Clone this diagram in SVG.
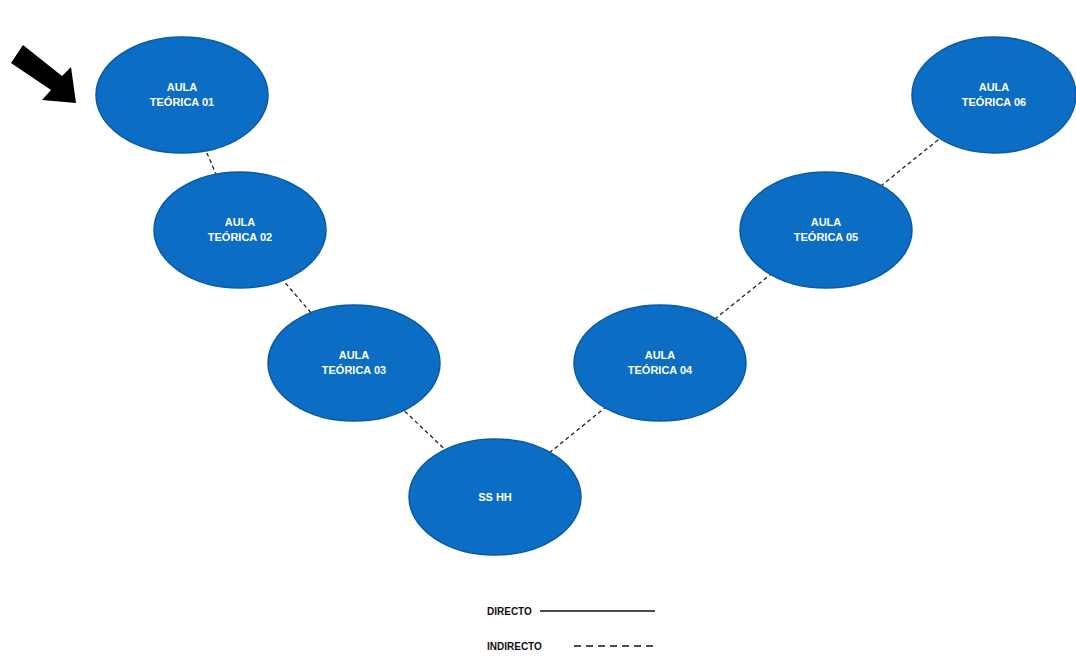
<svg xmlns="http://www.w3.org/2000/svg" width="1076" height="659" viewBox="0 0 1076 659">
<style>
.node ellipse{fill:#0b6dc4;stroke:#0a5aa3;stroke-width:1.5}
.node text{fill:#ffffff;font-family:"Liberation Sans",Arial,sans-serif;font-weight:bold;font-size:11px;text-anchor:middle}
.conn line{stroke:#222;stroke-width:1.3;stroke-dasharray:4,3}
.legend text{fill:#111;font-family:"Liberation Sans",Arial,sans-serif;font-weight:bold;font-size:10px}
</style>
<rect width="1076" height="659" fill="#ffffff"/>
<g id="connectors" class="conn">
<line x1="182" y1="95" x2="240" y2="230"/>
<line x1="240" y1="230" x2="354" y2="363"/>
<line x1="354" y1="363" x2="495" y2="497"/>
<line x1="495" y1="497" x2="660" y2="363"/>
<line x1="660" y1="363" x2="826" y2="230"/>
<line x1="826" y1="230" x2="994" y2="95"/>
</g>
<g id="arrow">
<polygon points="23,45 62,76 71,67 76,103 42,100 51,90 11,63" fill="#000"/>
</g>
<g id="n1" class="node"><ellipse cx="182" cy="95" rx="86" ry="58"/><text x="182" y="91">AULA</text><text x="182" y="106">TEÓRICA 01</text></g>
<g id="n2" class="node"><ellipse cx="240" cy="230" rx="86" ry="58"/><text x="240" y="226">AULA</text><text x="240" y="241">TEÓRICA 02</text></g>
<g id="n3" class="node"><ellipse cx="354" cy="363" rx="86" ry="58"/><text x="354" y="359">AULA</text><text x="354" y="374">TEÓRICA 03</text></g>
<g id="n7" class="node"><ellipse cx="495" cy="497" rx="86" ry="58"/><text x="495" y="501">SS HH</text></g>
<g id="n4" class="node"><ellipse cx="660" cy="363" rx="86" ry="58"/><text x="660" y="359">AULA</text><text x="660" y="374">TEÓRICA 04</text></g>
<g id="n5" class="node"><ellipse cx="826" cy="230" rx="86" ry="58"/><text x="826" y="226">AULA</text><text x="826" y="241">TEÓRICA 05</text></g>
<g id="n6" class="node"><ellipse cx="994" cy="95" rx="82" ry="58"/><text x="994" y="91">AULA</text><text x="994" y="106">TEÓRICA 06</text></g>
<g id="legend" class="legend">
<text x="487" y="615">DIRECTO</text>
<line x1="540" y1="611" x2="655" y2="611" stroke="#111" stroke-width="1.5"/>
<text x="487" y="650">INDIRECTO</text>
<line x1="574" y1="646" x2="655" y2="646" stroke="#111" stroke-width="1.5" stroke-dasharray="7,5"/>
</g>
</svg>
